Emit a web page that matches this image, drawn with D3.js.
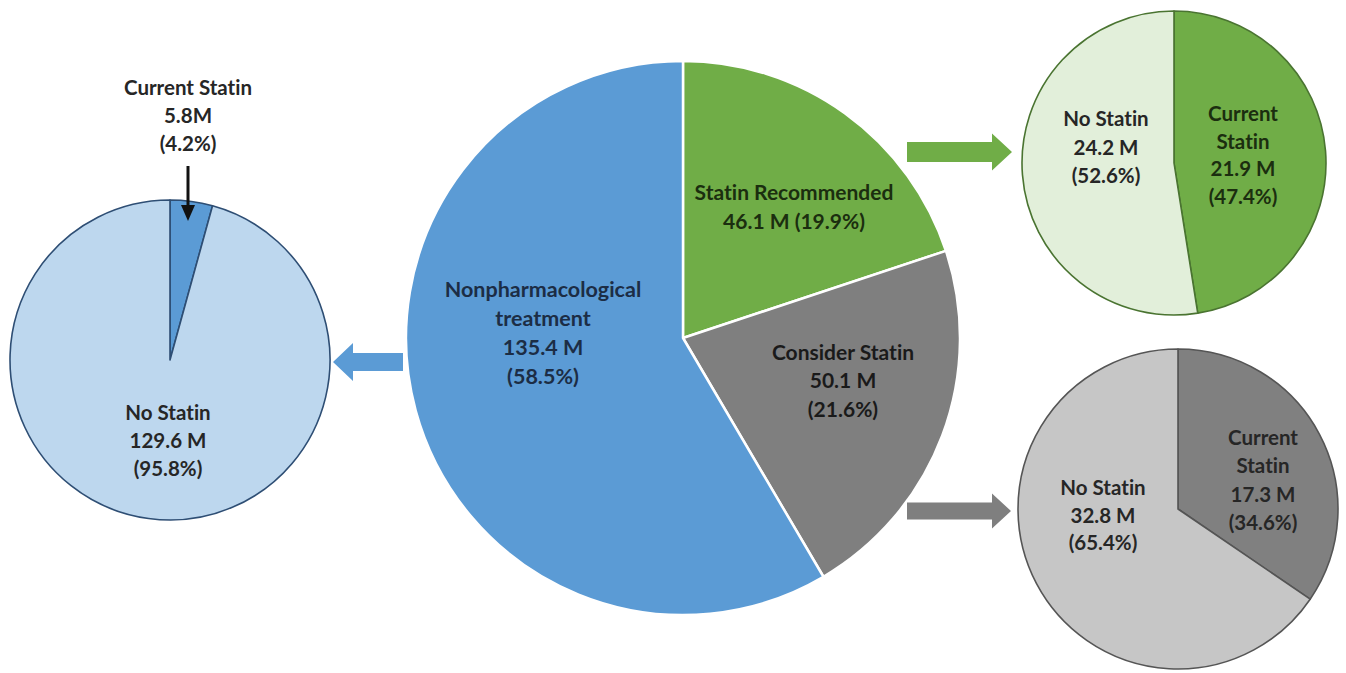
<!DOCTYPE html>
<html>
<head>
<meta charset="utf-8">
<script src="https://cdn.jsdelivr.net/npm/d3@7"></script>
<style>
  body { margin: 0; background: #fff; }
  text { font-family: Lato, "Open Sans", sans-serif; font-weight: 700; font-variant-ligatures: none; }
</style>
</head>
<body>
<div id="chart"></div>
<script>
// main breakdown
const mainCategories = ["Statin Recommended", "Consider Statin", "Nonpharmacological treatment"];
const mainValues = [46.1, 50.1, 135.4];
const mainPercents = ["19.9%", "21.6%", "58.5%"];

// sub breakdowns (current statin first, clockwise from 12 o'clock)
const subCategories = ["Current Statin", "No Statin"];
const nonpharmValues = [5.8, 129.6];
const nonpharmPercents = ["4.2%", "95.8%"];
const recommendedValues = [21.9, 24.2];
const recommendedPercents = ["47.4%", "52.6%"];
const considerValues = [17.3, 32.8];
const considerPercents = ["34.6%", "65.4%"];

const W = 1346, H = 673;
const svg = d3.select("#chart").append("svg")
  .attr("width", W).attr("height", H);

const pie = d3.pie().sort(null).value(d => d);

const drawPie = ({ cx, cy, r, values, colors, stroke, strokeWidth }) => {
  const arc = d3.arc().innerRadius(0).outerRadius(r);
  const g = svg.append("g").attr("transform", `translate(${cx},${cy})`);
  g.selectAll("path")
    .data(pie(values))
    .enter()
    .append("path")
    .attr("d", arc)
    .attr("fill", (d, i) => colors[i])
    .attr("stroke", stroke)
    .attr("stroke-width", strokeWidth)
    .attr("stroke-linejoin", "round");
  return g;
};

const label = (x, y, lines, color, size = 21, lh = 28.5) => {
  const t = svg.append("text")
    .attr("text-anchor", "middle")
    .attr("fill", color)
    .attr("font-size", size);
  lines.forEach((ln, i) => {
    t.append("tspan").attr("x", x).attr("y", y + i * lh)
      .attr("dominant-baseline", "central").text(ln);
  });
};

// block arrow pointing right or left
const blockArrow = (x0, x1, cy, shaft, head, headLen, color) => {
  const dir = x1 > x0 ? 1 : -1;
  const xh = x1 - dir * headLen;
  const pts = [
    [x0, cy - shaft / 2], [xh, cy - shaft / 2], [xh, cy - head / 2],
    [x1, cy], [xh, cy + head / 2], [xh, cy + shaft / 2], [x0, cy + shaft / 2]
  ];
  svg.append("path").attr("d", d3.line()(pts) + "Z").attr("fill", color);
};

// center pie
drawPie({ cx: 683, cy: 338, r: 277, values: mainValues,
  colors: ["#70ad47", "#7f7f7f", "#5b9bd5"], stroke: "#fff", strokeWidth: 2.5 });

// left pie
drawPie({ cx: 170, cy: 360, r: 160, values: nonpharmValues,
  colors: ["#5b9bd5", "#bdd7ee"], stroke: "#2e4e74", strokeWidth: 1.6 });

// top right pie
drawPie({ cx: 1174, cy: 163, r: 152, values: recommendedValues,
  colors: ["#70ad47", "#e2efda"], stroke: "#4a7431", strokeWidth: 1.6 });

// bottom right pie
drawPie({ cx: 1178, cy: 509, r: 160, values: considerValues,
  colors: ["#808080", "#c6c6c6"], stroke: "#555", strokeWidth: 1.6 });

// arrows
blockArrow(907, 1012, 152, 20, 37, 20, "#70ad47");
blockArrow(907, 1011, 511, 17, 35, 19, "#7f7f7f");
blockArrow(403, 333, 362, 18, 38, 20, "#5b9bd5");

// black pointer arrow into the small slice
svg.append("line").attr("x1", 188).attr("y1", 166).attr("x2", 188).attr("y2", 208)
  .attr("stroke", "#111").attr("stroke-width", 3);
svg.append("path")
  .attr("d", d3.line()([[181, 205], [195, 205], [188, 221]]) + "Z")
  .attr("fill", "#111");

const fmt = (v, gap = " ") => `${v}${gap}M`;

// main labels
label(794, 191, [mainCategories[0], `${fmt(mainValues[0])} (${mainPercents[0]})`], "#1b2e0f", 21, 29);
label(843, 351, [mainCategories[1], fmt(mainValues[1]), `(${mainPercents[1]})`], "#1a1a1a", 21, 28.5);
label(543, 289, ["Nonpharmacological", "treatment", fmt(mainValues[2]), `(${mainPercents[2]})`], "#1c2d45", 21.5, 29);

// left pie labels
label(188, 87, [subCategories[0], fmt(nonpharmValues[0], ""), `(${nonpharmPercents[0]})`], "#262626", 20.5, 28);
label(168, 412, [subCategories[1], fmt(nonpharmValues[1]), `(${nonpharmPercents[1]})`], "#262626", 20.5, 28);

// top right labels
label(1106, 118, [subCategories[1], fmt(recommendedValues[1]), `(${recommendedPercents[1]})`], "#262626", 20.5, 28.5);
label(1243, 113, ["Current", "Statin", fmt(recommendedValues[0]), `(${recommendedPercents[0]})`], "#1b2e0f", 20.5, 27.7);

// bottom right labels
label(1103, 487, [subCategories[1], fmt(considerValues[1]), `(${considerPercents[1]})`], "#262626", 20.5, 27.5);
label(1263, 437, ["Current", "Statin", fmt(considerValues[0]), `(${considerPercents[0]})`], "#262626", 20.5, 28.3);
</script>
</body>
</html>
